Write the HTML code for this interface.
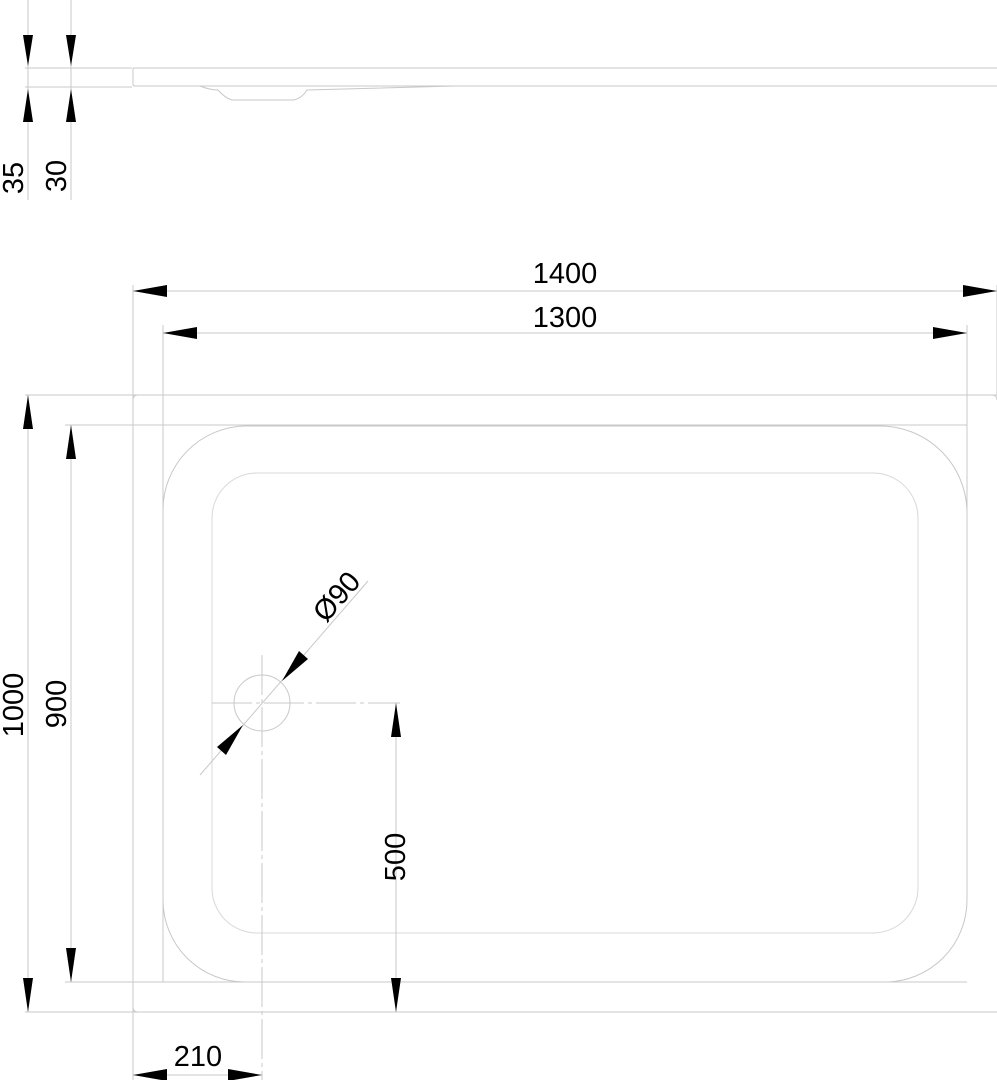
<!DOCTYPE html>
<html><head><style>html,body{margin:0;padding:0;background:#fff;}svg{display:block;}</style></head>
<body>
<svg width="997" height="1080" viewBox="0 0 997 1080" xmlns="http://www.w3.org/2000/svg" font-family="Liberation Sans, sans-serif" font-size="29">
<g fill="none" stroke="#c8c8c8" stroke-width="1">
<!-- side view -->
<line x1="25" y1="68" x2="132" y2="68"/>
<line x1="25" y1="87" x2="132" y2="87"/>
<path d="M133 68 H997 M133 68 V84 Q133 86 135 86 H997"/>
<path d="M200 86 Q210 90 218 90 Q225 98 232 100 H294 Q302 98 307 90 L455 86"/>
<line x1="28" y1="0" x2="28" y2="200"/>
<line x1="71" y1="0" x2="71" y2="200"/>
<!-- plan extension lines -->
<line x1="25" y1="395" x2="997" y2="395"/>
<line x1="65" y1="425" x2="967" y2="425"/>
<line x1="65" y1="982" x2="967" y2="982"/>
<line x1="25" y1="1012" x2="997" y2="1012"/>
<line x1="133" y1="285" x2="133" y2="1080"/>
<line x1="163" y1="325" x2="163" y2="982"/>
<line x1="967" y1="325" x2="967" y2="515"/>
<line x1="997" y1="285" x2="997" y2="395"/>
<path d="M133 400 Q133 395 138 395 M992 395 Q997 395 997 400 M133 1007 Q133 1012 138 1012"/>
<!-- outer tray shape -->
<path d="M245 426 H880 A87 87 0 0 1 967 512 V900 A82 82 0 0 1 885 982 H245 A82 82 0 0 1 163 900 V510 A84 84 0 0 1 245 426 Z"/>
<rect x="212" y="473" width="706" height="460" rx="45" ry="45" stroke="#d8d8d8"/>
<!-- dimension lines -->
<line x1="133" y1="291" x2="997" y2="291"/>
<line x1="163" y1="333" x2="967" y2="333"/>
<line x1="28" y1="395" x2="28" y2="1012"/>
<line x1="71" y1="425" x2="71" y2="982"/>
<line x1="396" y1="703" x2="396" y2="1012"/>
<line x1="133" y1="1075" x2="262" y2="1075"/>
<!-- drain -->
<circle cx="262" cy="703" r="28"/>
<line x1="212" y1="703" x2="400" y2="703" stroke-dasharray="40 4 4 4"/>
<line x1="262" y1="655" x2="262" y2="1080" stroke-dasharray="40 4 4 4"/>
<line x1="200" y1="775" x2="368" y2="581"/>
</g>
<g fill="#000">
<polygon points="28,66 23,35 33,35"/><polygon points="71,66 66,35 76,35"/>
<polygon points="28,89 23,122 33,122"/><polygon points="71,89 66,122 76,122"/>
<polygon points="133,291 167,285 167,297"/><polygon points="997,291 963,285 963,297"/>
<polygon points="163,333 197,327 197,339"/><polygon points="967,333 933,327 933,339"/>
<polygon points="28,395 23,429 33,429"/><polygon points="28,1012 23,978 33,978"/>
<polygon points="71,425 66,459 76,459"/><polygon points="71,982 66,948 76,948"/>
<polygon points="396,703 391,737 401,737"/><polygon points="396,1012 391,978 401,978"/>
<polygon points="133,1075 167,1069 167,1081"/><polygon points="262,1075 228,1069 228,1081"/>
<polygon points="282,681 299,651 308,659"/>
<polygon points="243,725 226,755 217,747"/>
</g>
<g fill="#000" text-anchor="middle">
<text x="565" y="283">1400</text>
<text x="565" y="327">1300</text>
<text x="198" y="1066">210</text>
<text transform="translate(23,705) rotate(-90)">1000</text>
<text transform="translate(66,704) rotate(-90)">900</text>
<text transform="translate(405,857) rotate(-90)">500</text>
<text transform="translate(23,178) rotate(-90)">35</text>
<text transform="translate(66,176) rotate(-90)">30</text>
<text transform="translate(344,603) rotate(-49)">Ø90</text>
</g>
</svg>
</body></html>
